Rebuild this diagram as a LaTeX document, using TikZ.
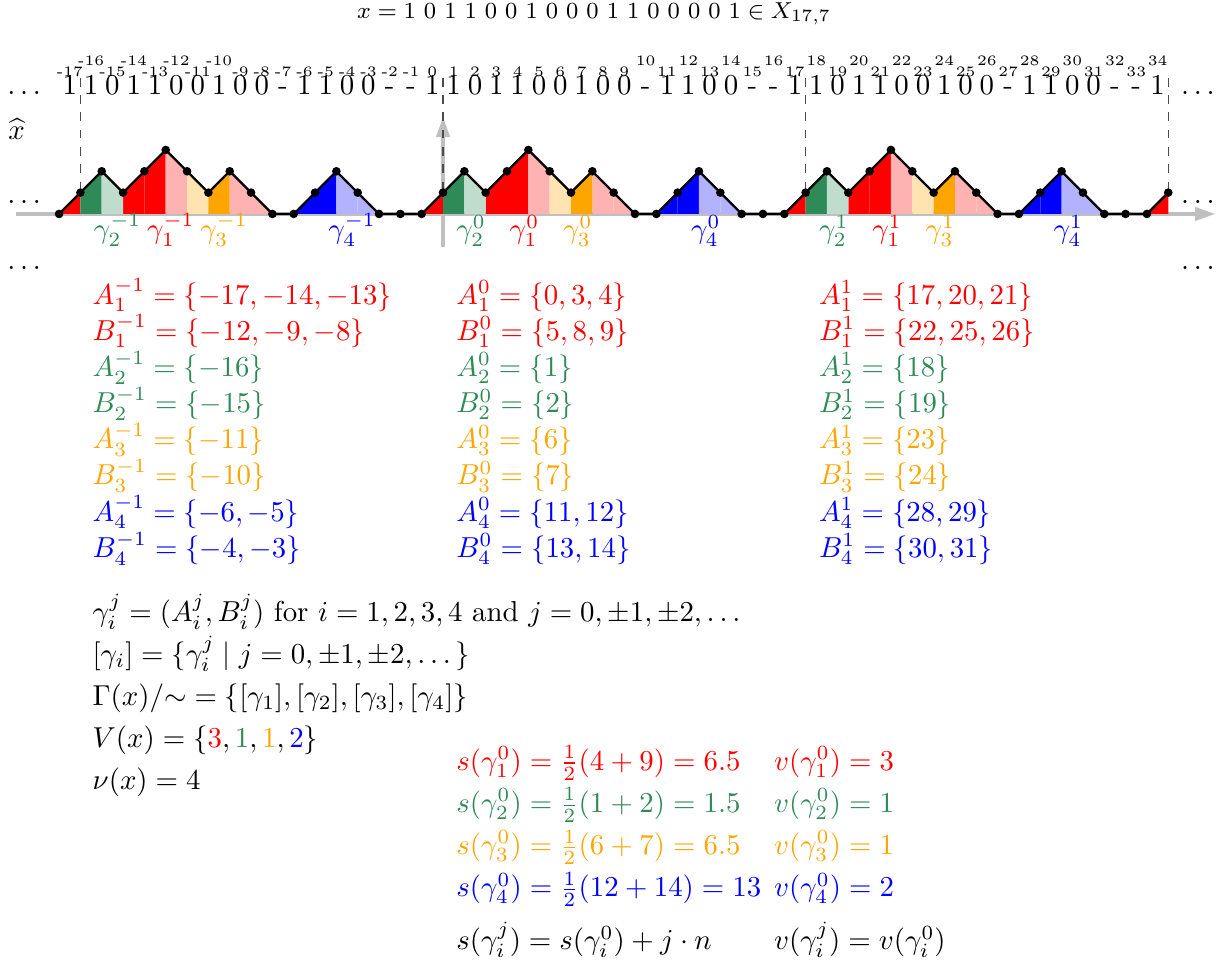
\documentclass[tikz,border=0pt]{standalone}
\usepackage{amsmath}
\usepackage{amssymb}
\usepackage{xcolor}
\usepackage{tikz}
\usetikzlibrary{arrows.meta,positioning,calc}

\definecolor{cgreen}{RGB}{46,139,87}
\definecolor{corange}{RGB}{255,165,0}

\begin{document}
\begin{tikzpicture}[
  x=0.26cm, y=0.26cm,
  dot/.style={circle, fill=black, inner sep=0pt, minimum size=3pt},
  walk/.style={thick, line join=round},
  axisline/.style={draw=gray!50, line width=1.2pt,
                   -{Triangle[length=7pt,width=4.6pt]}},
  guide/.style={dashed, black!70},
  sym/.style={anchor=base, inner sep=0pt},
  idx/.style={anchor=base, inner sep=0pt, font=\tiny},
  glab/.style={anchor=base west, inner sep=0pt},
  ellip/.style={anchor=base, inner sep=0pt},
  infoline/.style={anchor=base west, inner sep=0pt},
  setcol/.style={anchor=base west, inner sep=0pt, align=left,
                 font=\fontsize{10pt}{12.55pt}\selectfont},
  infocol/.style={anchor=base west, inner sep=0pt, align=left,
                  font=\fontsize{10pt}{14.6pt}\selectfont},
]
  \useasboundingbox (-20.77,-35.2) rectangle (36.52,10.03);

  \node[anchor=base, inner sep=0pt, font=\fontsize{7.9pt}{9pt}\selectfont] (title) at (7.08,9.16)
    {$x = 1\ 0\ 1\ 1\ 0\ 0\ 1\ 0\ 0\ 0\ 1\ 1\ 0\ 0\ 0\ 0\ 1 \in X_{17,7}$};

  \coordinate (xa) at (-20,0);
  \coordinate (xb) at (36.2,0);
  \coordinate (ya) at (0,-1.55);
  \coordinate (yb) at (0,4.55);
  \coordinate (gtop) at (0,6.38);

  \foreach \p in {-18,...,34}{
    \pgfmathtruncatemacro\h{{1,2,1,2,3,2,1,2,1,0,0,1,2,1,0,0,0}[int(Mod(\p,17))]}
    \coordinate (p\p) at (\p,\h);
  }

  \draw[axisline] (xa) -- (xb);
  \draw[axisline] (ya) -- (yb);

  \foreach \j in {-1,0,1}
    \foreach \k/\c in {0/red,3/red,4/red,5/red!30,8/red!30,9/red!30,
                       1/cgreen,2/cgreen!30,6/corange!30,7/corange,
                       11/blue,12/blue,13/blue!30,14/blue!30}{
      \pgfmathtruncatemacro\b{17*\j+\k}
      \pgfmathtruncatemacro\a{\b-1}
      \fill[\c] (p\a) -- (p\b) -- (p\b |- xa) -- (p\a |- xa) -- cycle;
    }
  \fill[red] (p33) -- (p34) -- (p34 |- xa) -- (p33 |- xa) -- cycle;

  \foreach \p in {-17,0,17,34}
    \draw[guide] (p\p |- gtop) -- (p\p);

  \draw[walk] (p-18) \foreach \p in {-17,...,34}{ -- (p\p) };
  \foreach \p in {-18,...,34}
    \node[dot] (d\p) at (p\p) {};

  \foreach \k in {-17,...,34}{
    \pgfmathsetmacro\yy{(abs(\k)>=10 && iseven(\k)) ? 6.95 : 6.44}
    \node[idx] (i\k) at (\k-0.5,\yy) {\k};
  }

  \node[sym] (s-17) at (-17.5,5.58) {1};
  \foreach \j in {-1,0,1}
    \foreach \s [count=\k] in {1,0,1,1,0,0,1,0,0,-,1,1,0,0,-,-,1}{
      \pgfmathtruncatemacro\m{17*\j+\k}
      \node[sym] (s\m) at (\m-0.5,5.58) {\s};
    }

  \node[ellip] (dl1) at (-19.64,5.6) {$\ldots$};
  \node[ellip] (dr1) at (35.39,5.6) {$\ldots$};
  \node[ellip] (dl2) at (-19.64,0.47) {$\ldots$};
  \node[ellip] (dr2) at (35.39,0.47) {$\ldots$};
  \node[ellip] (dl3) at (-19.64,-2.6) {$\ldots$};
  \node[ellip] (dr3) at (35.39,-2.6) {$\ldots$};

  \node[anchor=base west, inner sep=0pt] (xhat) at (-20.4,3.47) {$\widehat{x}$};

  \foreach \j in {-1,0,1}{
    \node[glab, text=cgreen] (g2\j) at (0.6+17*\j,-1.17) {$\gamma_2^{\j}$};
    \node[glab, text=red] (g1\j) at (3.1+17*\j,-1.17) {$\gamma_1^{\j}$};
    \node[glab, text=corange] (g3\j) at (5.6+17*\j,-1.17) {$\gamma_3^{\j}$};
    \node[glab, text=blue] (g4\j) at (11.6+17*\j,-1.17) {$\gamma_4^{\j}$};
  }

  \node[setcol] (setm) at (-16.45,-16.1) {%
    \textcolor{red}{$A_1^{-1} = \{-17,-14,-13\}$}\\
    \textcolor{red}{$B_1^{-1} = \{-12,-9,-8\}$}\\
    \textcolor{cgreen}{$A_2^{-1} = \{-16\}$}\\
    \textcolor{cgreen}{$B_2^{-1} = \{-15\}$}\\
    \textcolor{corange}{$A_3^{-1} = \{-11\}$}\\
    \textcolor{corange}{$B_3^{-1} = \{-10\}$}\\
    \textcolor{blue}{$A_4^{-1} = \{-6,-5\}$}\\
    \textcolor{blue}{$B_4^{-1} = \{-4,-3\}$}};
  \node[setcol] (setz) at (0.6,-16.1) {%
    \textcolor{red}{$A_1^{0} = \{0,3,4\}$}\\
    \textcolor{red}{$B_1^{0} = \{5,8,9\}$}\\
    \textcolor{cgreen}{$A_2^{0} = \{1\}$}\\
    \textcolor{cgreen}{$B_2^{0} = \{2\}$}\\
    \textcolor{corange}{$A_3^{0} = \{6\}$}\\
    \textcolor{corange}{$B_3^{0} = \{7\}$}\\
    \textcolor{blue}{$A_4^{0} = \{11,12\}$}\\
    \textcolor{blue}{$B_4^{0} = \{13,14\}$}};
  \node[setcol] (setp) at (17.6,-16.1) {%
    \textcolor{red}{$A_1^{1} = \{17,20,21\}$}\\
    \textcolor{red}{$B_1^{1} = \{22,25,26\}$}\\
    \textcolor{cgreen}{$A_2^{1} = \{18\}$}\\
    \textcolor{cgreen}{$B_2^{1} = \{19\}$}\\
    \textcolor{corange}{$A_3^{1} = \{23\}$}\\
    \textcolor{corange}{$B_3^{1} = \{24\}$}\\
    \textcolor{blue}{$A_4^{1} = \{28,29\}$}\\
    \textcolor{blue}{$B_4^{1} = \{30,31\}$}};

  \node[infoline] (def1) at (-16.45,-19.11)
    {$\gamma_i^j = (A_i^j, B_i^j)$ for $i = 1,2,3,4$ and $j = 0,\pm 1,\pm 2,\dots$};
  \node[infoline] (def2) at (-16.45,-21.08)
    {$[\gamma_i] = \{\gamma_i^j \mid j = 0,\pm 1,\pm 2,\dots\}$};
  \node[infoline] (def3) at (-16.45,-23.05)
    {$\Gamma(x)/{\sim} = \{[\gamma_1],[\gamma_2],[\gamma_3],[\gamma_4]\}$};
  \node[infoline] (def4) at (-16.45,-25.02)
    {$V(x) = \{\textcolor{red}{3},\textcolor{cgreen}{1},\textcolor{corange}{1},\textcolor{blue}{2}\}$};
  \node[infoline] (def5) at (-16.45,-26.99) {$\nu(x) = 4$};

  \node[infocol] (scol) at (0.6,-34.5) {%
    \textcolor{red}{$s(\gamma_1^0) = \frac{1}{2}(4+9) = 6.5$}\\
    \textcolor{cgreen}{$s(\gamma_2^0) = \frac{1}{2}(1+2) = 1.5$}\\
    \textcolor{corange}{$s(\gamma_3^0) = \frac{1}{2}(6+7) = 6.5$}\\
    \textcolor{blue}{$s(\gamma_4^0) = \frac{1}{2}(12+14) = 13$}\\[3.9pt]
    $s(\gamma_i^j) = s(\gamma_i^0) + j\cdot n$};
  \node[infocol] (vcol) at (15.5,-34.5) {%
    \textcolor{red}{$v(\gamma_1^0) = 3$}\\
    \textcolor{cgreen}{$v(\gamma_2^0) = 1$}\\
    \textcolor{corange}{$v(\gamma_3^0) = 1$}\\
    \textcolor{blue}{$v(\gamma_4^0) = 2$}\\[3.9pt]
    $v(\gamma_i^j) = v(\gamma_i^0)$};
\end{tikzpicture}
\end{document}
